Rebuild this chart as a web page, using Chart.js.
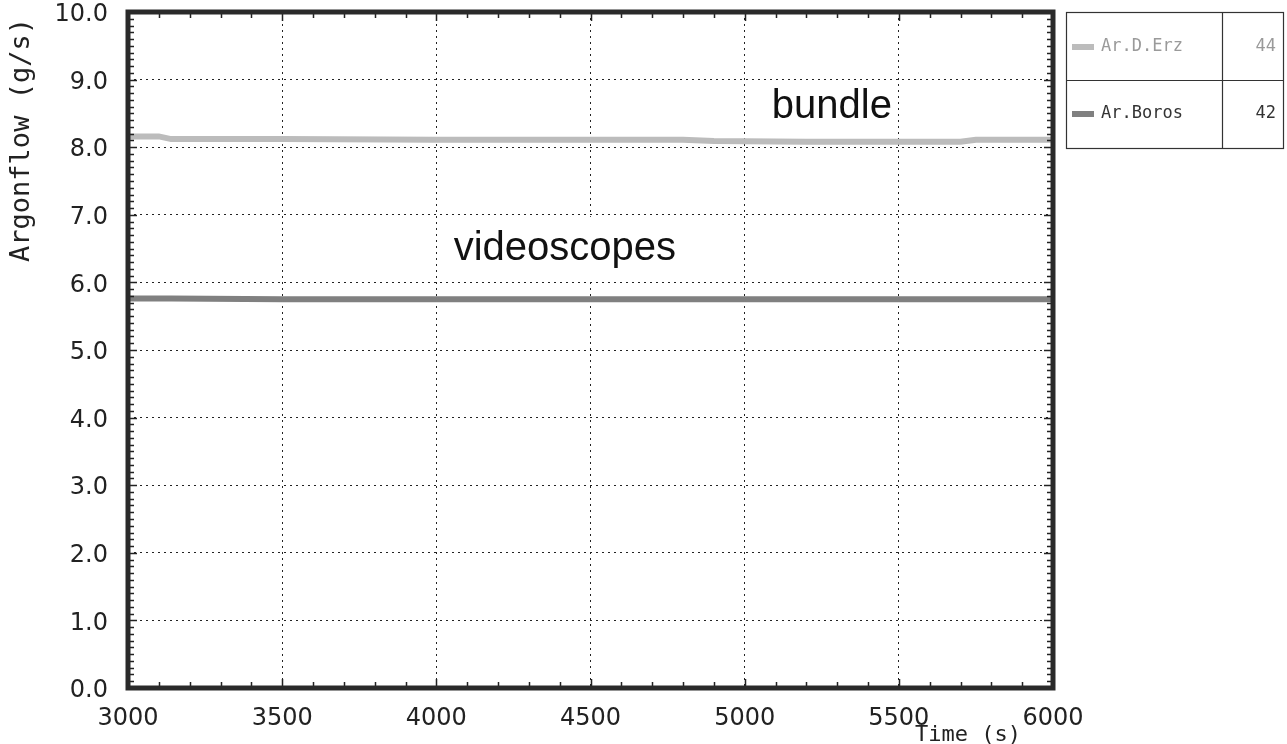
<!DOCTYPE html>
<html>
<head>
<meta charset="utf-8">
<title>Argonflow</title>
<script src="https://cdn.jsdelivr.net/npm/chart.js@4.4.1/dist/chart.umd.min.js"></script>
<style>
  html, body { margin: 0; padding: 0; background: #fff; }
  #wrap { width: 1287px; height: 744px; position: relative; }
</style>
</head>
<body>
<div id="wrap"><canvas id="c" width="1287" height="744"></canvas></div>
<script>
// Time axis (s) and the two argon flow channels (g/s)
const timeS      = [3000, 3100, 3140, 3500, 4000, 4500, 4800, 4900, 5200, 5500, 5700, 5750, 6000];
const arDErz     = [8.16, 8.16, 8.12, 8.12, 8.11, 8.11, 8.11, 8.09, 8.08, 8.08, 8.08, 8.11, 8.11];
const arBoros    = [5.76, 5.76, 5.76, 5.75, 5.75, 5.75, 5.75, 5.75, 5.75, 5.75, 5.75, 5.75, 5.75];

const seriesNames   = ['Ar.D.Erz', 'Ar.Boros'];
const seriesChannel = ['44', '42'];
const seriesColors  = ['#bcbcbc', '#808080'];
const seriesText    = ['#9a9a9a', '#333333'];

const xTicks = [3000, 3500, 4000, 4500, 5000, 5500, 6000];
const yTicks = [0, 1, 2, 3, 4, 5, 6, 7, 8, 9, 10];

// in-plot annotations, placed in data units
const notes = [
  { text: 'bundle',      x: 5283, y: 8.6, box: null },
  { text: 'videoscopes', x: 4417, y: 6.5, box: [4000, 4770, 6.0, 6.97] }
];

const monoFont = '"DejaVu Sans Mono", "Liberation Mono", monospace';
const tickFont = '"DejaVu Sans", "Liberation Sans", sans-serif';

const framePlugin = {
  id: 'frame',
  beforeDatasetsDraw(chart) {
    const { ctx, scales: { x, y } } = chart;
    ctx.save();
    // white backing behind annotation labels
    ctx.fillStyle = '#ffffff';
    notes.forEach(n => {
      if (!n.box) return;
      const x0 = x.getPixelForValue(n.box[0]) + 2, x1 = x.getPixelForValue(n.box[1]);
      const y0 = y.getPixelForValue(n.box[3]), y1 = y.getPixelForValue(n.box[2]) - 1;
      ctx.fillRect(x0, y0, x1 - x0, y1 - y0);
    });
    ctx.restore();
  },
  afterDatasetsDraw(chart) {
    const { ctx, chartArea: a, scales: { x, y } } = chart;
    ctx.save();
    // annotation labels
    ctx.fillStyle = '#111';
    ctx.font = '40px "Liberation Sans", Arial, sans-serif';
    ctx.textAlign = 'center';
    ctx.textBaseline = 'middle';
    notes.forEach(n => ctx.fillText(n.text, x.getPixelForValue(n.x), y.getPixelForValue(n.y)));

    // minor ticks, pointing inward on all four sides
    ctx.strokeStyle = '#222';
    ctx.lineWidth = 1.5;
    ctx.beginPath();
    for (let v = 0; v <= 100; v++) {
      const py = Math.round(y.getPixelForValue(v / 10)) + 0.5;
      const len = v % 10 === 0 ? 9 : 6;
      ctx.moveTo(a.left, py); ctx.lineTo(a.left + len, py);
      ctx.moveTo(a.right, py); ctx.lineTo(a.right - len, py);
    }
    for (let t = 3000; t <= 6000; t += 100) {
      const px = Math.round(x.getPixelForValue(t)) + 0.5;
      const len = t % 500 === 0 ? 9 : 6;
      ctx.moveTo(px, a.bottom); ctx.lineTo(px, a.bottom - len);
      ctx.moveTo(px, a.top); ctx.lineTo(px, a.top + len);
    }
    ctx.stroke();

    // heavy frame
    ctx.strokeStyle = '#2a2a2a';
    ctx.lineWidth = 5;
    ctx.strokeRect(a.left, a.top, a.right - a.left, a.bottom - a.top);

    // axis titles
    ctx.fillStyle = '#222';
    ctx.font = '22px ' + monoFont;
    ctx.textAlign = 'left';
    ctx.textBaseline = 'middle';
    ctx.fillText('Time (s)', 915, 735);
    ctx.font = '27px ' + monoFont;
    ctx.translate(22, 140);
    ctx.rotate(-Math.PI / 2);
    ctx.textAlign = 'center';
    ctx.fillText('Argonflow (g/s)', 0, 0);
    ctx.restore();

    // legend table
    ctx.save();
    const L = 1066, R = 1283, T = 12, B = 148, M = 80, D = 1222;
    ctx.strokeStyle = '#333';
    ctx.lineWidth = 1.2;
    ctx.strokeRect(L + 0.5, T + 0.5, R - L, B - T);
    ctx.beginPath();
    ctx.moveTo(L, M + 0.5); ctx.lineTo(R, M + 0.5);
    ctx.moveTo(D + 0.5, T); ctx.lineTo(D + 0.5, B);
    ctx.stroke();
    const rows = [(T + M) / 2 + 1, (M + B) / 2];
    ctx.font = '17px ' + monoFont;
    ctx.textBaseline = 'middle';
    seriesNames.forEach((name, i) => {
      const cy = rows[i];
      ctx.fillStyle = seriesColors[i];
      ctx.fillRect(1072, cy - 3, 22, 6);
      ctx.fillStyle = seriesText[i];
      ctx.textAlign = 'left';
      ctx.fillText(name, 1101, cy);
      ctx.textAlign = 'right';
      ctx.fillText(seriesChannel[i], 1276, cy);
    });
    ctx.restore();
  }
};

const ctx = document.getElementById('c').getContext('2d');
new Chart(ctx, {
  type: 'line',
  data: {
    datasets: [
      { label: seriesNames[0], data: timeS.map((t, i) => ({ x: t, y: arDErz[i] })),
        borderColor: seriesColors[0], borderWidth: 6, pointRadius: 0, tension: 0 },
      { label: seriesNames[1], data: timeS.map((t, i) => ({ x: t, y: arBoros[i] })),
        borderColor: seriesColors[1], borderWidth: 6, pointRadius: 0, tension: 0 }
    ]
  },
  options: {
    responsive: false,
    animation: false,
    devicePixelRatio: 1,
    layout: { autoPadding: false, padding: { top: 12, right: 234, left: 0, bottom: 0 } },
    plugins: { legend: { display: false }, tooltip: { enabled: false } },
    scales: {
      x: {
        type: 'linear', min: 3000, max: 6000,
        afterBuildTicks: s => { s.ticks = xTicks.map(v => ({ value: v })); },
        afterFit: s => { s.height = 56; s.paddingLeft = 0; s.paddingRight = 0; },
        ticks: { padding: 16, color: '#222', font: { family: tickFont, size: 24 }, maxRotation: 0,
                 callback: v => String(v) },
        grid: { color: '#222', lineWidth: 1, drawTicks: false },
        border: { display: false, dash: [2, 4] }
      },
      y: {
        type: 'linear', min: 0, max: 10,
        afterBuildTicks: s => { s.ticks = yTicks.map(v => ({ value: v })); },
        afterFit: s => { s.width = 128; s.paddingTop = 0; s.paddingBottom = 0; },
        ticks: { padding: 20, labelOffset: 3, color: '#222', font: { family: tickFont, size: 24 },
                 callback: v => Number(v).toFixed(1) },
        grid: { color: '#222', lineWidth: 1, drawTicks: false },
        border: { display: false, dash: [2, 4] }
      }
    }
  },
  plugins: [framePlugin]
});
</script>
</body>
</html>
